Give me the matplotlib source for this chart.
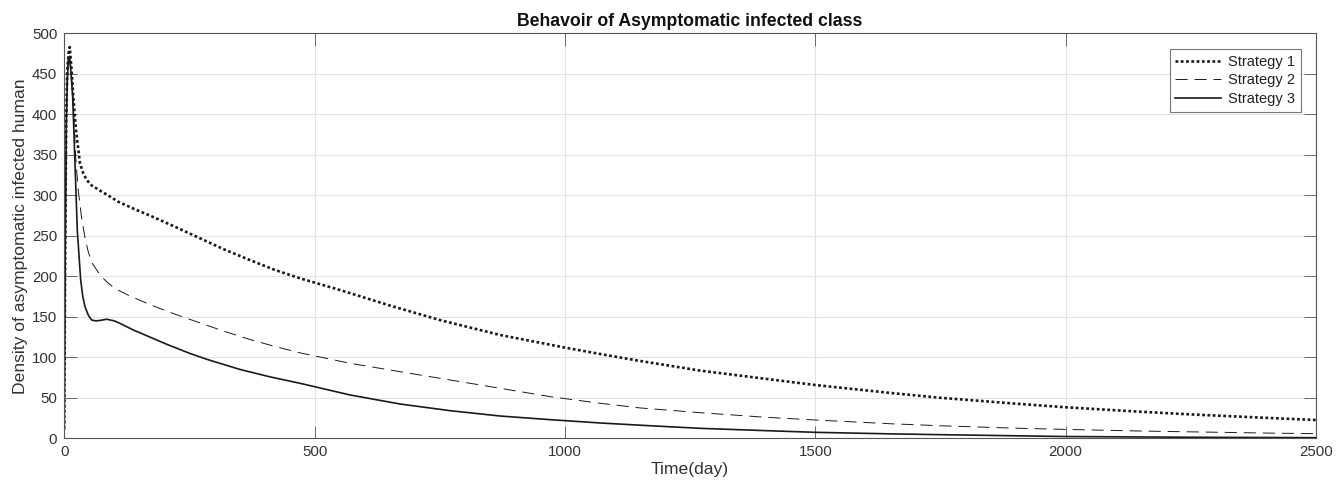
import matplotlib
matplotlib.use("Agg")
import matplotlib.pyplot as plt

plt.rcParams['font.family'] = ['Liberation Sans', 'DejaVu Sans']
plt.rcParams['lines.scale_dashes'] = False

# Time points (days) and values
t1 = [0, 2, 4, 6, 9, 11, 14, 18, 23.4, 31.4, 38, 44.8, 55, 71, 90, 108, 140, 171, 220, 271,
      320, 371, 420, 471, 551, 650, 750, 871, 1000, 1071, 1150, 1271, 1400, 1500, 1650, 1750,
      1900, 2000, 2150, 2250, 2400, 2500]
s1 = [12, 250, 400, 455, 478, 483, 460, 421.7, 380.6, 339.5, 327, 319, 312, 306, 299, 292, 283,
      275, 261.5, 247, 233, 220, 208, 197.5, 183, 164, 146, 127.5, 112, 104, 95.5, 83.5, 73.5,
      65.8, 56, 50, 42.8, 38.3, 32.8, 29.5, 25.3, 22.6]

t2 = [0, 2, 4, 6, 8, 10, 13, 17, 23, 28, 34, 41, 48, 56, 71, 85, 101, 130, 171, 220, 271, 320,
      371, 420, 471, 571, 671, 771, 871, 971, 1071, 1150, 1271, 1400, 1500, 1650, 1750, 1900,
      2000, 2150, 2250, 2400, 2500]
s2 = [10, 240, 390, 450, 472, 476, 460, 425, 345, 306, 275, 249, 230, 216, 202, 193, 185, 176,
      165, 153.5, 142.5, 132, 122, 113.5, 105.5, 92.6, 82.2, 72, 61.7, 51.4, 43.2, 37.5, 31.6, 26,
      22.6, 18, 15.5, 12.5, 11, 9, 8, 6.5, 5.7]

t3 = [0, 2, 4, 6, 8, 10, 13, 16.8, 21.4, 26, 32.8, 37, 41.4, 48, 54.8, 63, 71, 84.8, 100, 111,
      138, 171, 205, 250, 285, 351, 410, 471, 571, 671, 771, 871, 971, 1071, 1171, 1271, 1400,
      1500, 1650, 1750, 2000, 2250, 2500]
s3 = [10, 230, 380, 440, 465, 471, 455, 421.7, 339.5, 257, 195.4, 175, 162.5, 152, 146, 145,
      145.5, 147, 145, 142, 133.7, 125, 116, 105, 97.5, 85, 76, 67.9, 53.5, 42.3, 34.1, 27.5,
      23, 18.9, 15.5, 12.3, 9.5, 7.4, 5.5, 4.5, 2.2, 1.3, 0.8]

labels = ["Strategy 1", "Strategy 2", "Strategy 3"]
xticks = [0, 500, 1000, 1500, 2000, 2500]
yticks = [0, 50, 100, 150, 200, 250, 300, 350, 400, 450, 500]

fig = plt.figure(figsize=(13.36, 4.91), dpi=100)
ax = fig.add_axes([0.0481, 0.1073, 0.985 - 0.0481, 0.9322 - 0.1073])

line_col = '#1a1a1a'
ax.plot(t1, s1, color=line_col, lw=1.9, linestyle=(0, (2.0, 1.8)), label=labels[0],
        dash_capstyle='butt', solid_joinstyle='round')
ax.plot(t2, s2, color=line_col, lw=0.7, linestyle=(0, (8.7, 5)), label=labels[1])
ax.plot(t3, s3, color=line_col, lw=1.2, linestyle='-', label=labels[2])

ax.set_xlim(0, 2500)
ax.set_ylim(0, 500)
ax.set_xticks(xticks)
ax.set_yticks(yticks)

for sp in ax.spines.values():
    sp.set_color('#555555')
    sp.set_linewidth(0.8)
ax.tick_params(direction='in', length=9, width=0.6, color='#555555',
               labelcolor='#333333', labelsize=10.8, top=True, right=True, pad=5)
ax.grid(True, color='#e3e3e3', linewidth=0.8)
ax.set_axisbelow(True)

ax.set_xlabel("Time(day)", fontsize=12.6, color='#333333', labelpad=2)
ax.set_ylabel("Density of asymptomatic infected human", fontsize=12.6, color='#333333',
              labelpad=3)
ax.set_title("Behavoir of Asymptomatic infected class", fontsize=12.7, fontweight='bold',
             color='#111111', pad=5)

leg = ax.legend(loc='upper right', bbox_to_anchor=(0.9878, 0.9605), fontsize=10.5,
                frameon=True, fancybox=False, handlelength=3.15, handletextpad=0.45,
                borderpad=0.4, labelspacing=0.3, borderaxespad=0.0)
leg.get_frame().set_edgecolor('#555555')
leg.get_frame().set_linewidth(0.8)
for txt in leg.get_texts():
    txt.set_color('#222222')

fig.savefig("out.png", dpi=100)
